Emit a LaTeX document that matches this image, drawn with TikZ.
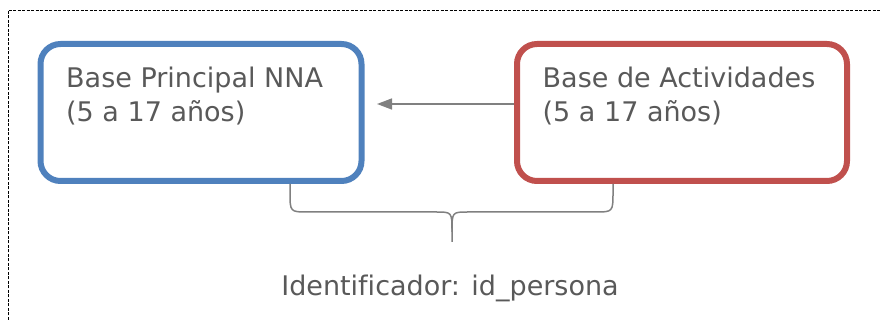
\documentclass[tikz,border=0pt]{standalone}
\usepackage{fontspec}
\setmainfont[Ligatures=NoCommon]{DejaVu Sans}
\usetikzlibrary{calc,arrows.meta}
\definecolor{azulbase}{HTML}{4F81BD}
\definecolor{rojobase}{HTML}{C0504D}
\definecolor{grisTexto}{HTML}{595959}
\definecolor{grisLinea}{HTML}{808080}
\begin{document}
\begin{tikzpicture}[x=1pt,y=-1pt,
    base/.style={draw,line width=6pt,rounded corners=20pt,inner sep=0pt,minimum height=137pt},
    rotulo/.style={anchor=north west,align=left,inner sep=0pt,text=grisTexto,
        font=\fontsize{27}{34.5}\selectfont},
    flecha/.style={grisLinea,line width=1.5pt,-{Triangle[length=15pt,width=11pt]}},
    llave/.style={grisLinea,line width=1.5pt}]
            \useasboundingbox (0,0) rectangle (881,320);
            \draw[dash pattern=on 3pt off 1.5pt,line width=0.8pt] (8,320) -- (8,10) -- (881,10);

            \node[base,azulbase,minimum width=321pt] (nna) at (201,112.5){};
            \node[base,rojobase,minimum width=330pt] (act) at (682,112.5){};
            \node[rotulo] (tnna) at ($(nna.north west)+(28.5,25.5)$){Base Principal NNA\\(5 a 17 años)};
            \node[rotulo] (tact) at ($(act.north west)+(28.5,25.5)$){Base de Actividades\\(5 a 17 años)};

            \coordinate (punta) at (377,104);
            \draw[flecha] (act.west |- punta) -- (punta);

            \coordinate (bizq) at (290,0 |- nna.south);
            \coordinate (bder) at (613,0 |- act.south);
            \coordinate (bcen) at (452,242);
            \draw[llave] (bizq) -- (290,192) .. controls (290,212) .. (308,212) -- (436,212)
                .. controls (452,212) .. (452,232) -- (bcen);
            \draw[llave] (bder) -- (613,192) .. controls (613,212) .. (595,212) -- (468,212)
                .. controls (452,212) .. (452,232);

            \node[anchor=base,text=grisTexto,font=\fontsize{27}{34}\selectfont] (clave) at (450,296){Identificador: id\_persona};
          \end{tikzpicture}
\end{document}
